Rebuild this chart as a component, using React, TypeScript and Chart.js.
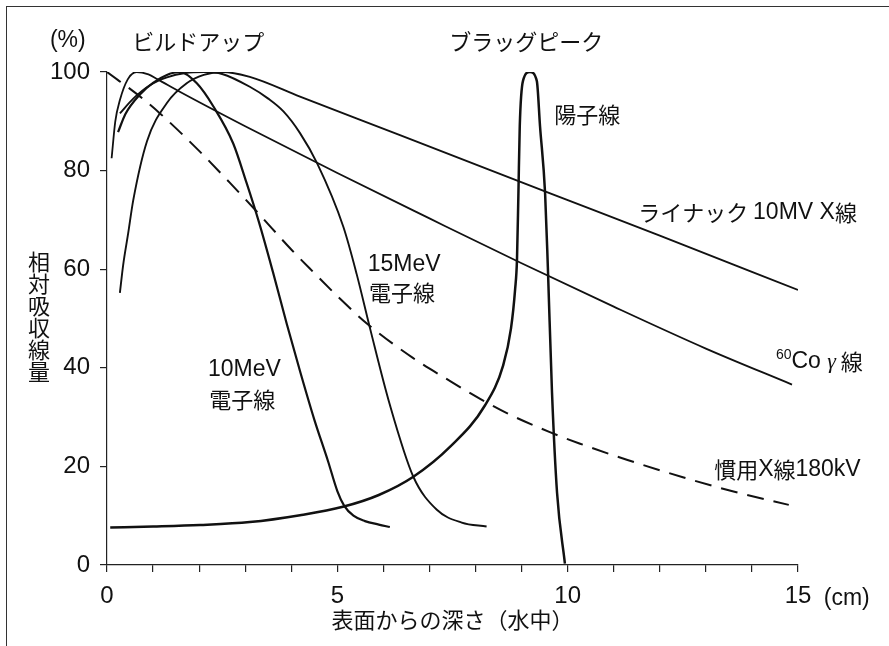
import React, { useEffect, useRef } from 'react';
import { Chart, registerables } from 'chart.js';

Chart.register(...registerables);

// ---- data (depth cm, relative dose %) ----
const xTickValues = [0, 5, 10, 15];
const yTickValues = [0, 20, 40, 60, 80, 100];

const linac10MV = [
  [0.28, 55.2], [0.35, 60.8], [0.46, 67.3], [0.57, 74], [0.87, 86], [1.3, 93.7], [1.73, 97.7],
  [2.1, 99.4], [2.5, 100], [3.1, 99], [4.19, 95], [6.36, 87.2], [9.62, 75.4], [12.0, 66.8], [15.0, 55.8],
];
const co60 = [
  [0.1, 82.5], [0.18, 90], [0.28, 94.3], [0.45, 98.5], [0.64, 100], [0.9, 99.5], [1.1, 98.5],
  [1.58, 96], [3.0, 89], [5.0, 79.5], [7.0, 70.3], [9.0, 61.2], [11.0, 52.4], [13.0, 43.9], [14.87, 36.6],
];
const xray180kV = [
  [0, 100], [0.72, 95], [1.15, 91.6], [2.0, 84], [2.67, 77.5], [3.26, 71.6], [4.0, 64], [4.47, 59.5],
  [5.06, 54], [5.64, 49], [6.64, 42], [7.45, 37.3], [8.1, 33.7], [8.68, 30.8], [9.6, 27], [10.27, 24.6],
  [11.3, 21.3], [12.5, 17.8], [13.6, 14.9], [14.8, 12.2],
];
const electron10MeV = [
  [0.24, 87.8], [0.4, 91.5], [0.72, 95.5], [1.0, 97.8], [1.3, 99.4], [1.58, 100], [1.95, 97.7],
  [2.31, 93], [2.74, 85.5], [3.03, 77.5], [3.3, 69.5], [3.6, 59.5], [3.9, 49], [4.2, 39], [4.5, 29.5],
  [4.8, 21], [5.0, 15], [5.15, 12], [5.35, 10], [5.6, 8.9], [5.9, 8.2], [6.14, 7.7],
];
const electron15MeV = [
  [0.28, 91.6], [0.57, 94.6], [0.93, 97.3], [1.3, 98.9], [1.7, 99.8], [2.1, 100], [2.5, 99.6],
  [3.1, 97], [3.5, 94.6], [3.83, 92], [4.19, 87.6], [4.56, 81.5], [5.13, 68.6], [5.42, 59], [5.71, 48],
  [6.14, 32.5], [6.65, 17.9], [7.16, 11.2], [7.7, 8.6], [8.24, 7.8],
];
const proton = [
  [0.07, 7.6], [1.0, 7.8], [2.02, 8.1], [3.1, 8.7], [4.19, 10.1], [5.12, 11.8], [5.9, 14.2],
  [6.65, 17.9], [7.45, 24], [8.2, 32.3], [8.6, 40.5], [8.77, 48], [8.86, 56], [8.9, 62], [8.93, 75],
  [8.96, 89], [9.03, 98.2], [9.18, 100], [9.33, 98.2], [9.4, 89], [9.51, 75.4], [9.57, 60.4],
  [9.66, 35], [9.77, 14.6], [9.94, 0.3],
];

// ---- annotation text (anchored in data coordinates) ----
const JP = "'Noto Sans CJK JP', sans-serif";
const MIX = "'Liberation Sans', 'Noto Sans CJK JP', sans-serif";
const annotations = [
  { x: -1.24, y: 106.4, parts: [{ text: '(%)', font: `23px ${MIX}` }] },
  { x: 0.55, y: 106.1, parts: [{ text: 'ビルドアップ', font: `22px ${JP}` }] },
  { x: 7.43, y: 106.1, parts: [{ text: 'ブラッグピーク', font: `22px ${JP}` }] },
  { x: 9.71, y: 91.3, parts: [{ text: '陽子線', font: `22px ${JP}` }] },
  {
    x: 11.53, y: 71.4, parts: [
      { text: 'ライナック ', font: `22px ${JP}` },
      { text: '10MV X', font: `23px ${MIX}` },
      { text: '線', font: `22px ${JP}` },
    ],
  },
  {
    x: 14.52, y: 41.2, parts: [
      { text: '60', font: `14px ${MIX}`, dy: -7 },
      { text: 'Co ', font: `23px ${MIX}` },
      { text: 'γ', font: `italic 22px 'Liberation Serif', serif` },
      { text: ' 線', font: `22px ${JP}` },
    ],
  },
  {
    x: 13.18, y: 19.3, parts: [
      { text: '慣用', font: `22px ${JP}` },
      { text: 'X', font: `23px ${MIX}` },
      { text: '線', font: `22px ${JP}` },
      { text: '180kV', font: `23px ${MIX}` },
    ],
  },
  { x: 5.66, y: 60.85, parts: [{ text: '15MeV', font: `23px ${MIX}` }] },
  { x: 5.69, y: 55.2, parts: [{ text: '電子線', font: `22px ${JP}` }] },
  { x: 2.19, y: 39.55, parts: [{ text: '10MeV', font: `23px ${MIX}` }] },
  { x: 2.22, y: 33.5, parts: [{ text: '電子線', font: `22px ${JP}` }] },
  { x: 15.56, y: -6.9, parts: [{ text: '(cm)', font: `23px ${MIX}` }] },
];

const annotationPlugin = {
  id: 'textAnnotations',
  afterDraw(chart: any) {
    const { ctx, scales } = chart;
    const xs = scales.x;
    const ys = scales.y;
    ctx.save();
    ctx.fillStyle = '#111';
    ctx.textBaseline = 'middle';
    ctx.textAlign = 'left';
    for (const a of annotations) {
      let px = xs.getPixelForValue(a.x);
      const py = ys.getPixelForValue(a.y);
      for (const seg of a.parts as any[]) {
        ctx.font = seg.font;
        ctx.fillText(seg.text, px, py + (seg.dy || 0));
        px += ctx.measureText(seg.text).width;
      }
    }
    ctx.restore();
  },
};

const toPoints = (arr: number[][]) => arr.map(([x, y]) => ({ x, y }));

const lineDs = (label: string, arr: number[][], width: number, dash: number[] = []) => ({
  label,
  data: toPoints(arr),
  borderColor: '#111',
  borderWidth: width,
  borderDash: dash,
  pointRadius: 0,
  fill: false,
  showLine: true,
  cubicInterpolationMode: 'monotone' as const,
});

export default function App() {
  const canvasRef = useRef<HTMLCanvasElement | null>(null);

  useEffect(() => {
    if (!canvasRef.current) return;
    const chart = new Chart(canvasRef.current, {
      type: 'scatter',
      data: {
        datasets: [
          lineDs('ライナック 10MV X線', linac10MV, 1.9),
          lineDs('60Co γ線', co60, 1.8),
          lineDs('慣用X線180kV', xray180kV, 2.0, [17, 10]),
          lineDs('10MeV 電子線', electron10MeV, 2.2),
          lineDs('15MeV 電子線', electron15MeV, 1.9),
          lineDs('陽子線', proton, 2.5),
        ],
      },
      options: {
        responsive: false,
        animation: false,
        events: [],
        layout: { padding: { left: 0, top: 72, right: 91, bottom: 0 } },
        plugins: { legend: { display: false }, tooltip: { enabled: false } },
        scales: {
          x: {
            type: 'linear',
            min: 0,
            max: 15,
            afterFit: (s: any) => { s.height = 81; },
            grid: { display: true, drawOnChartArea: false, drawTicks: true, tickLength: 7, color: '#222', lineWidth: 1.2 },
            border: { display: true, color: '#222', width: 1.2 },
            ticks: {
              stepSize: 1,
              autoSkip: false,
              maxRotation: 0,
              padding: 10,
              color: '#111',
              font: { family: "'Liberation Sans', sans-serif", size: 24 },
              callback: (v: any) => (xTickValues.includes(Number(v)) ? String(v) : ''),
            },
            title: {
              display: true,
              text: '表面からの深さ（水中）',
              color: '#111',
              font: { family: "'Noto Sans CJK JP', sans-serif", size: 22 },
              padding: { top: 0, bottom: 13 },
            },
          },
          y: {
            type: 'linear',
            min: 0,
            max: 100,
            afterFit: (s: any) => { s.width = 107; },
            grid: { display: true, drawOnChartArea: false, drawTicks: true, tickLength: 7, color: '#222', lineWidth: 1.2 },
            border: { display: true, color: '#222', width: 1.2 },
            ticks: {
              stepSize: 20,
              padding: 10,
              color: '#111',
              font: { family: "'Liberation Sans', sans-serif", size: 24 },
              callback: (v: any) => (yTickValues.includes(Number(v)) ? String(v) : ''),
            },
          },
        },
      },
      plugins: [annotationPlugin],
    } as any);
    return () => chart.destroy();
  }, []);

  return (
    <div style={{ position: 'absolute', left: 0, top: 0, width: 889, height: 646, background: '#fff', overflow: 'hidden' }}>
      <div
        style={{
          position: 'absolute', left: 6, top: 6, width: 883, height: 640, boxSizing: 'border-box',
          borderLeft: '1.5px solid #333', borderTop: '1.5px solid #333',
        }}
      />
      <canvas ref={canvasRef} width={889} height={646} style={{ position: 'absolute', left: 0, top: 0, display: 'block' }} />
      <div
        style={{
          position: 'absolute', left: 28, top: 251, writingMode: 'vertical-rl',
          fontFamily: "'Noto Sans CJK JP', sans-serif", fontSize: 22, lineHeight: '22px', color: '#111',
        }}
      >
        相対吸収線量
      </div>
    </div>
  );
}
